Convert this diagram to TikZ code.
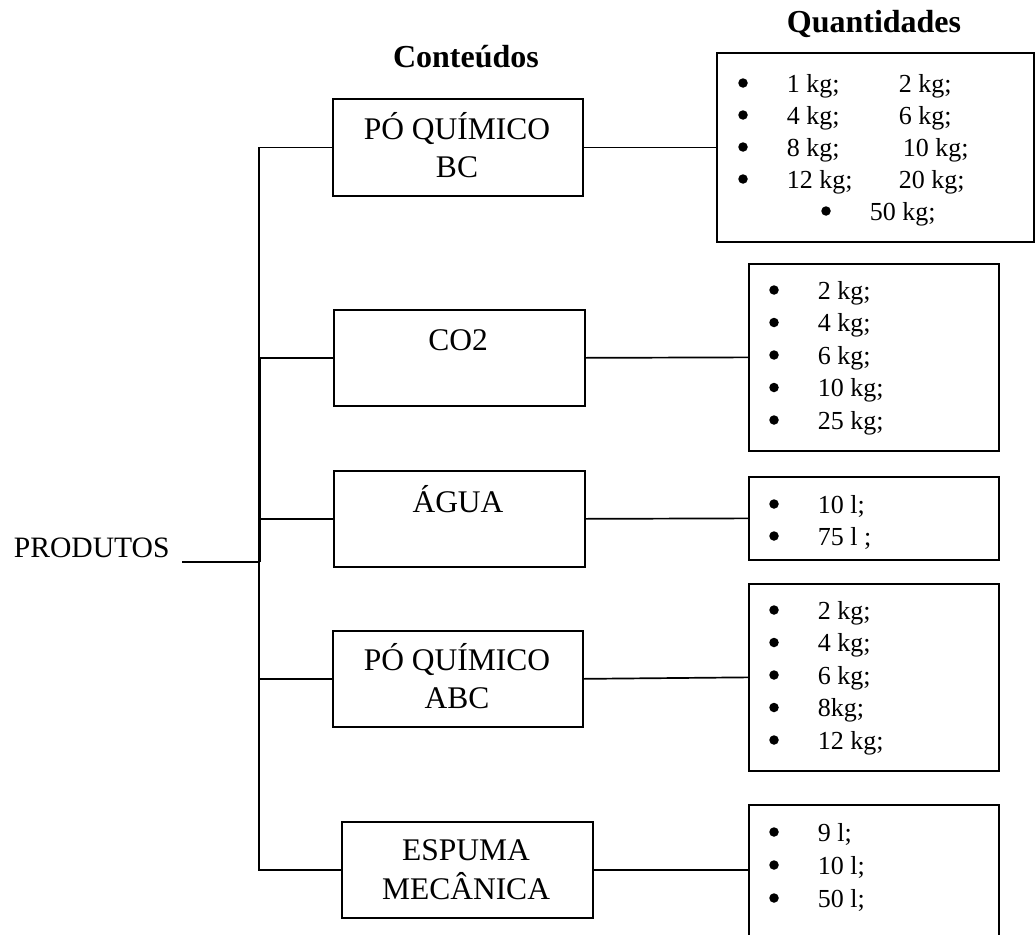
\documentclass[tikz,border=0pt]{standalone}
\usepackage{fontspec}
\setmainfont{Liberation Serif}
\begin{document}
\begin{tikzpicture}[x=1pt,y=-1pt,line width=1.7pt,
  box/.style={draw,line width=1.7pt,inner sep=0pt,anchor=north west},
  txt/.style={inner sep=0pt,anchor=base,font=\fontsize{31.5}{36}\selectfont},
  qty/.style={inner sep=0pt,anchor=base west,font=\fontsize{26}{30}\selectfont},
  bul/.style={circle,fill,draw=none,inner sep=0pt,minimum size=9.5pt},
  head/.style={inner sep=0pt,anchor=base,font=\fontsize{32}{36}\selectfont\bfseries}]
\useasboundingbox (0,0) rectangle (1035,934);

% headings
\node[head] (hc) at (466,67) {Conteúdos};
\node[head] (hq) at (874,33) {Quantidades};

% product boxes
\node[box,minimum width=250pt,minimum height=97pt] (b1) at (332,98) {};
\node[box,minimum width=251pt,minimum height=96pt] (b2) at (333,309) {};
\node[box,minimum width=251pt,minimum height=96pt] (b3) at (333,470) {};
\node[box,minimum width=250pt,minimum height=96pt] (b4) at (332,630) {};
\node[box,minimum width=251pt,minimum height=96pt] (b5) at (341,821) {};

\node[txt] (b1a) at (457,139) {PÓ QUÍMICO};
\node[txt] (b1b) at (457,177) {BC};
\node[txt] (b2a) at (458,350) {CO2};
\node[txt] (b3a) at (458,512) {ÁGUA};
\node[txt] (b4a) at (457,670) {PÓ QUÍMICO};
\node[txt] (b4b) at (457,708) {ABC};
\node[txt] (b5a) at (466,860) {ESPUMA};
\node[txt] (b5b) at (466,899) {MECÂNICA};

% quantity boxes
\node[box,minimum width=317pt,minimum height=189pt] (q1) at (716,52) {};
\node[box,minimum width=250pt,minimum height=187pt] (q2) at (748,263) {};
\node[box,minimum width=250pt,minimum height=83pt] (q3) at (748,476) {};
\node[box,minimum width=250pt,minimum height=187pt] (q4) at (748,583) {};
\node[box,minimum width=250pt,minimum height=150pt] (q5) at (748,804) {};

% quantities: two columns
\node[bul] (q1d1) at (743,83) {};
\node[qty] (q1a1) at (786,92) {1 kg;};
\node[qty] (q1b1) at (898,92) {2 kg;};
\node[bul] (q1d2) at (743,115) {};
\node[qty] (q1a2) at (786,124) {4 kg;};
\node[qty] (q1b2) at (898,124) {6 kg;};
\node[bul] (q1d3) at (743,147) {};
\node[qty] (q1a3) at (786,156) {8 kg;};
\node[qty] (q1b3) at (902,156) {10 kg;};
\node[bul] (q1d4) at (743,179) {};
\node[qty] (q1a4) at (786,188) {12 kg;};
\node[qty] (q1b4) at (898,188) {20 kg;};
\node[bul] (q1d5) at (826,211) {};
\node[qty] (q1a5) at (869,220) {50 kg;};

% quantities: single column lists
\foreach \y/\t [count=\i] in {299/{2 kg;},331.5/{4 kg;},364/{6 kg;},396.5/{10 kg;},429/{25 kg;}}{
  \node[bul] (q2d\i) at (774,\y-9) {};
  \node[qty] (q2t\i) at (817,\y) {\t};
}
\foreach \y/\t [count=\i] in {513/{10 l;},545/{75 l ;}}{
  \node[bul] (q3d\i) at (774,\y-9) {};
  \node[qty] (q3t\i) at (817,\y) {\t};
}
\foreach \y/\t [count=\i] in {619/{2 kg;},651.5/{4 kg;},684/{6 kg;},716.5/{8kg;},749/{12 kg;}}{
  \node[bul] (q4d\i) at (774,\y-9) {};
  \node[qty] (q4t\i) at (817,\y) {\t};
}
\foreach \y/\t [count=\i] in {841/{9 l;},874/{10 l;},907/{50 l;}}{
  \node[bul] (q5d\i) at (774,\y-9) {};
  \node[qty] (q5t\i) at (817,\y) {\t};
}

% root label
\node[inner sep=0pt,anchor=base west,font=\fontsize{29.6}{34}\selectfont] (prod) at (13,557) {PRODUTOS};
\coordinate (p0) at (182,562);
\coordinate (trunk) at (259,0);

% tree connectors
\draw (b1.west) -- (b1.west -| trunk) -- (b5.west -| trunk) -- (b5.west);
\draw (b2.west -| trunk) -- (b2.west);
\draw (b3.west -| trunk) -- (b3.west);
\draw (b4.west -| trunk) -- (b4.west);
\draw (p0) -- (p0 -| trunk);
\draw ([xshift=1pt]b2.west -| trunk) -- ([xshift=1pt]p0 -| trunk);

% links to quantities
\draw (b1.east) -- (q1.west);
\draw (b2.east) -- (q2.west);
\draw (b3.east) -- (q3.west);
\draw (b4.east) -- (q4.west);
\draw (b5.east) -- (b5.east -| q5.west);
\end{tikzpicture}
\end{document}
